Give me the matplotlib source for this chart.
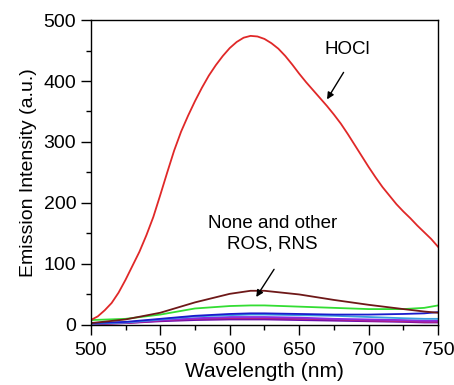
import matplotlib
matplotlib.use("Agg")
import matplotlib.pyplot as plt
import numpy as np
from matplotlib.ticker import MultipleLocator

plt.rcParams['font.family'] = ['Liberation Sans', 'DejaVu Sans']

wl = [500, 505, 510, 515, 520, 525, 530, 535, 540, 545, 550, 555, 560, 565, 570,
      575, 580, 585, 590, 595, 600, 605, 610, 615, 620, 625, 630, 635, 640, 645,
      650, 655, 660, 665, 670, 675, 680, 685, 690, 695, 700, 705, 710, 715, 720,
      725, 730, 735, 740, 745, 750]
hocl = [8, 14, 24, 36, 53, 74, 97, 120, 147, 177, 213, 250, 286, 317, 343,
        367, 389, 409, 426, 441, 454, 464, 471, 474, 473, 469, 462, 453, 441, 427,
        412, 398, 385, 372, 359, 345, 330, 313, 295, 277, 259, 242, 226, 212, 198,
        186, 175, 163, 152, 141, 128]

wl2 = [500, 525, 550, 575, 600, 615, 625, 650, 675, 700, 725, 740, 750]
none_maroon = [3, 9, 20, 37, 51, 56, 56, 50, 41, 33, 26, 22, 20]
green = [8, 10, 17, 27, 31, 32, 32, 30, 28, 26, 26, 28, 32]
blue = [3, 5, 10, 15, 18, 19, 19, 18, 17, 17, 18, 19, 21]
cyan = [2, 4, 9, 14, 16, 17, 17, 16, 15, 13, 11, 10, 10]
purple = [2, 4, 8, 11, 13, 13, 13, 12, 10, 9, 8, 7, 7]
magenta = [1, 3, 7, 10, 11, 11, 11, 10, 9, 7, 6, 5, 5]
violet = [1, 3, 6, 8, 9, 9, 9, 8, 7, 6, 5, 4, 4]

fig = plt.figure(figsize=(4.54, 3.85), dpi=100)
ax = fig.add_axes([0.2, 0.156, 0.765, 0.792])

others = [(violet, '#6a0dad'), (magenta, '#b0208a'), (purple, '#8a2be2'),
          (cyan, '#3aa0e0'), (blue, '#1a1acc'), (green, '#33dd33'),
          (none_maroon, '#6e1818')]
for vals, c in others:
    ax.plot(wl2, vals, color=c, lw=1.3)
ax.plot(wl, hocl, color='#e02828', lw=1.3)

ax.set_xlim(500, 750)
ax.set_ylim(0, 500)
ax.xaxis.set_major_locator(MultipleLocator(50))
ax.xaxis.set_minor_locator(MultipleLocator(25))
ax.yaxis.set_major_locator(MultipleLocator(100))
ax.yaxis.set_minor_locator(MultipleLocator(50))
for s in ax.spines.values():
    s.set_linewidth(1.0)
ax.tick_params(which='both', direction='out', top=False, right=False, labelsize=14,
               width=1.0)
ax.tick_params(which='major', length=7.5, pad=3)
ax.tick_params(axis='x', which='major', pad=5)
ax.tick_params(which='minor', length=3.5)
ax.set_xlabel('Wavelength (nm)', fontsize=15, labelpad=2)
ax.set_ylabel('Emission Intensity (a.u.)', fontsize=14, labelpad=5)

ax.text(685, 452, 'HOCl', fontsize=13.5, ha='center', va='center')
ax.annotate('', xy=(669, 366), xytext=(683, 418),
            arrowprops=dict(arrowstyle='-|>', color='black', lw=1, mutation_scale=10))
ax.text(631, 150, 'None and other\nROS, RNS', fontsize=13.5, ha='center', va='center',
        linespacing=1.25)
ax.annotate('', xy=(618, 42), xytext=(633, 95),
            arrowprops=dict(arrowstyle='-|>', color='black', lw=1, mutation_scale=10))

fig.savefig('out.png', dpi=100)
